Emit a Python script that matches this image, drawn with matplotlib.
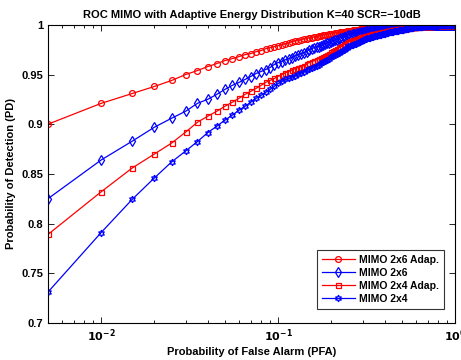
import numpy as np
import matplotlib
matplotlib.use("Agg")
import matplotlib.pyplot as plt
from matplotlib.ticker import FixedLocator, LogLocator, NullFormatter

plt.rcParams['font.family'] = ['Liberation Sans', 'DejaVu Sans']
plt.rcParams['font.weight'] = 'bold'

# false alarm probability grid (step 0.005 up to 1)
pfa = np.arange(1, 201) * 0.005

# probability of detection
pd_2x6_adap = [
    .900, .921, .931, .938, .944, .950, .954, .958, .961, .964,
    .966, .968, .970, .971, .973, .974, .976, .977, .978, .979,
    .980, .981, .982, .983, .984, .984, .985, .986, .986, .987,
    .987, .988, .988, .989, .989, .990, .990, .990, .991, .991,
    .991, .992, .992, .992, .993, .993, .993, .993, .994, .994,
    .994, .994, .995, .995, .995, .995, .995, .996, .996, .996,
    .9961, .9962, .9963, .9964, .9965, .9966, .9967, .9968, .9969, .9970,
    .9971, .9972, .9973, .9974, .9975, .9976, .9977, .9978, .9979, .9980,
    .9981, .9982, .9982, .9983, .9984, .9984, .9985, .9986, .9986, .9987,
    .9987, .9988, .9988, .9988, .9989, .9989, .9989, .9990, .9990, .9990,
    .9990, .9990, .9991, .9991, .9991, .9992, .9992, .9992, .9992, .9993,
    .9993, .9993, .9993, .9994, .9994, .9994, .9994, .9994, .9995, .9995,
    .9995, .9995, .9995, .9996, .9996, .9996, .9996, .9996, .9996, .9997,
    .9997, .9997, .9997, .9997, .9997, .9997, .9998, .9998, .9998, .9998,
    .9998, .9998, .9998, .9998, .9998, .9998, .9999, .9999, .9999, .9999,
    .9999, .9999, .9999, .9999, .9999, .9999, .9999, .9999, .9999, .9999,
    .9999, .9999, .9999, .9999, .9999, .9999, .9999, .9999, .9999, .9999,
    1.0, 1.0, 1.0, 1.0, 1.0, 1.0, 1.0, 1.0, 1.0, 1.0,
    1.0, 1.0, 1.0, 1.0, 1.0, 1.0, 1.0, 1.0, 1.0, 1.0,
    1.0, 1.0, 1.0, 1.0, 1.0, 1.0, 1.0, 1.0, 1.0, 1.0,
]
pd_2x6 = [
    .825, .864, .883, .897, .906, .913, .921, .925, .930, .935,
    .939, .942, .945, .948, .951, .953, .955, .957, .960, .962,
    .963, .965, .966, .967, .969, .970, .971, .972, .973, .975,
    .976, .977, .978, .978, .979, .980, .981, .982, .982, .983,
    .984, .985, .985, .986, .987, .987, .988, .988, .989, .990,
    .990, .990, .991, .991, .991, .992, .992, .992, .993, .993,
    .993, .993, .994, .994, .994, .994, .995, .995, .995, .995,
    .995, .996, .996, .996, .996, .996, .996, .997, .997, .997,
    .997, .997, .997, .997, .997, .998, .998, .998, .998, .998,
    .998, .998, .998, .998, .998, .998, .999, .999, .999, .999,
    .9990, .9990, .9990, .9991, .9991, .9991, .9992, .9992, .9992, .9992,
    .9993, .9993, .9993, .9993, .9994, .9994, .9994, .9994, .9994, .9995,
    .9995, .9995, .9995, .9995, .9996, .9996, .9996, .9996, .9996, .9996,
    .9997, .9997, .9997, .9997, .9997, .9997, .9997, .9998, .9998, .9998,
    .9998, .9998, .9998, .9998, .9998, .9998, .9998, .9999, .9999, .9999,
    .9999, .9999, .9999, .9999, .9999, .9999, .9999, .9999, .9999, .9999,
    .9999, .9999, .9999, .9999, .9999, .9999, .9999, .9999, .9999, .9999,
    .9999, .9999, .9999, .9999, .9999, 1.0, 1.0, 1.0, 1.0, 1.0,
    1.0, 1.0, 1.0, 1.0, 1.0, 1.0, 1.0, 1.0, 1.0, 1.0,
    1.0, 1.0, 1.0, 1.0, 1.0, 1.0, 1.0, 1.0, 1.0, 1.0,
]
pd_2x4_adap = [
    .789, .832, .856, .870, .881, .892, .902, .908, .913, .918,
    .922, .926, .930, .933, .936, .939, .942, .944, .946, .948,
    .950, .952, .953, .955, .956, .957, .958, .959, .961, .962,
    .963, .964, .965, .966, .967, .968, .969, .970, .971, .973,
    .974, .975, .976, .977, .978, .979, .980, .981, .982, .983,
    .984, .984, .985, .985, .986, .986, .987, .987, .988, .988,
    .988, .989, .989, .989, .990, .990, .990, .991, .991, .991,
    .991, .992, .992, .992, .992, .992, .993, .993, .993, .993,
    .993, .994, .994, .994, .994, .994, .995, .995, .995, .995,
    .995, .995, .995, .996, .996, .996, .996, .996, .996, .996,
    .9961, .9963, .9965, .9967, .9968, .9970, .9971, .9972, .9973, .9974,
    .9975, .9976, .9977, .9978, .9979, .9980, .9980, .9981, .9982, .9982,
    .9983, .9984, .9984, .9985, .9985, .9986, .9986, .9987, .9987, .9988,
    .9988, .9988, .9989, .9989, .9989, .9990, .9990, .9990, .9991, .9991,
    .9991, .9992, .9992, .9992, .9992, .9993, .9993, .9993, .9993, .9994,
    .9994, .9994, .9994, .9995, .9995, .9995, .9995, .9995, .9996, .9996,
    .9996, .9996, .9996, .9997, .9997, .9997, .9997, .9997, .9997, .9998,
    .9998, .9998, .9998, .9998, .9998, .9998, .9999, .9999, .9999, .9999,
    .9999, .9999, .9999, .9999, .9999, .9999, .9999, .9999, .9999, .9999,
    .9999, .9999, .9999, .9999, 1.0, 1.0, 1.0, 1.0, 1.0, 1.0,
]
pd_2x4 = [
    .731, .791, .8245, .846, .862, .873, .8825, .8915, .898, .904,
    .909, .914, .918, .922, .926, .929, .932, .935, .938, .941,
    .943, .945, .946, .948, .949, .951, .952, .953, .955, .956,
    .957, .958, .959, .960, .962, .963, .964, .965, .966, .968,
    .969, .970, .971, .972, .973, .974, .975, .976, .977, .979,
    .979, .980, .980, .981, .981, .982, .983, .983, .984, .985,
    .985, .986, .986, .987, .987, .987, .988, .988, .988, .989,
    .989, .989, .990, .990, .990, .990, .991, .991, .991, .991,
    .992, .992, .992, .992, .993, .993, .993, .993, .993, .994,
    .994, .994, .994, .994, .994, .995, .995, .995, .995, .995,
    .9951, .9953, .9955, .9957, .9959, .9960, .9962, .9963, .9965, .9966,
    .9967, .9968, .9970, .9971, .9972, .9973, .9974, .9974, .9975, .9976,
    .9977, .9978, .9978, .9979, .9980, .9980, .9981, .9982, .9982, .9983,
    .9983, .9984, .9984, .9985, .9985, .9986, .9986, .9987, .9987, .9987,
    .9988, .9988, .9988, .9989, .9989, .9989, .9990, .9990, .9990, .9991,
    .9991, .9991, .9992, .9992, .9992, .9992, .9993, .9993, .9993, .9993,
    .9994, .9994, .9994, .9994, .9995, .9995, .9995, .9995, .9995, .9996,
    .9996, .9996, .9996, .9996, .9997, .9997, .9997, .9997, .9997, .9998,
    .9998, .9998, .9998, .9998, .9998, .9999, .9999, .9999, .9999, .9999,
    .9999, .9999, .9999, .9999, .9999, 1.0, 1.0, 1.0, 1.0, 1.0,
]

labels = ['MIMO 2x6 Adap.', 'MIMO 2x6', 'MIMO 2x4 Adap.', 'MIMO 2x4']
yticks = [0.7, 0.75, 0.8, 0.85, 0.9, 0.95, 1.0]
yticklabels = ['0.7', '0.75', '0.8', '0.85', '0.9', '0.95', '1']

fig = plt.figure(figsize=(4.61, 3.60), dpi=100)
ax = fig.add_axes([0.104, 0.103, 0.883, 0.828])

ax.semilogx(pfa, pd_2x6_adap, 'r-', marker='o', ms=4.2, mfc='none', mew=0.9, lw=0.9, label=labels[0])
ax.semilogx(pfa, pd_2x6, 'b-', marker='d', ms=4.8, mfc='none', mew=0.9, lw=0.9, label=labels[1])
ax.semilogx(pfa, pd_2x4_adap, 'r-', marker='s', ms=3.6, mfc='none', mew=0.9, lw=0.9, label=labels[2])
ax.semilogx(pfa, pd_2x4, 'b-', marker=(6, 1, 0), ms=4.8, mfc='none', mew=0.9, lw=0.9, label=labels[3])

ax.set_xlim(0.005, 1.0)
ax.set_ylim(0.7, 1.0)
ax.yaxis.set_major_locator(FixedLocator(yticks))
ax.set_yticklabels(yticklabels)
ax.xaxis.set_major_locator(FixedLocator([0.01, 0.1, 1.0]))
ax.set_xticklabels([r'$\mathbf{10^{-2}}$', r'$\mathbf{10^{-1}}$', r'$\mathbf{10^{0}}$'])
ax.xaxis.set_minor_locator(LogLocator(base=10, subs=np.arange(2, 10), numticks=12))
ax.xaxis.set_minor_formatter(NullFormatter())

ax.tick_params(which='both', direction='in', top=True, right=True, labelsize=8, width=0.6)
ax.tick_params(which='major', length=4)
ax.tick_params(which='minor', length=2)
for sp in ax.spines.values():
    sp.set_linewidth(0.8)

ax.set_title('ROC MIMO with Adaptive Energy Distribution K=40 SCR=\u221210dB',
             fontsize=8, fontweight='bold', pad=5)
ax.set_xlabel('Probability of False Alarm (PFA)', fontsize=8, fontweight='bold', labelpad=2)
ax.set_ylabel('Probability of Detection (PD)', fontsize=8, fontweight='bold', labelpad=4)

leg = ax.legend(loc='lower right', fontsize=7.5, frameon=True, fancybox=False,
                edgecolor='black', borderpad=0.45, labelspacing=0.3,
                handlelength=3.2, handletextpad=0.4, bbox_to_anchor=(0.985, 0.03))
leg.get_frame().set_linewidth(0.8)
for t in leg.get_texts():
    t.set_fontweight('bold')

fig.savefig('out.png', dpi=100)
